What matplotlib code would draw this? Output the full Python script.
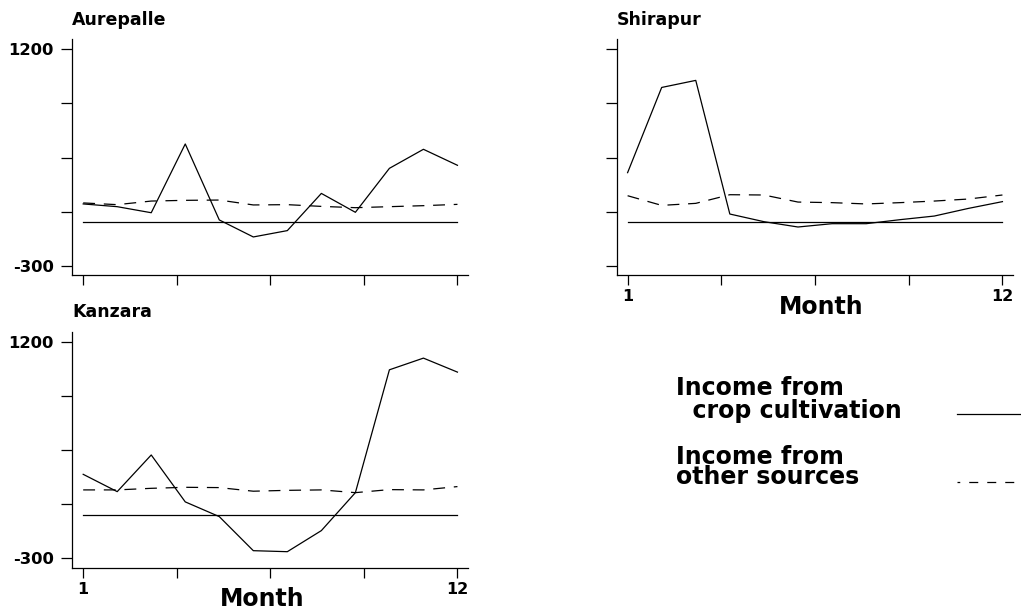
import matplotlib
matplotlib.use("Agg")
import matplotlib.pyplot as plt
from matplotlib.lines import Line2D

plt.rcParams['font.family'] = ['DejaVu Sans']
plt.rcParams['font.weight'] = 'bold'

#%% data (monthly income)

months = list(range(1, 13))

aurepalle_crop = [128, 109, 67, 544, 17, -101, -57, 201, 70, 375, 507, 396]
aurepalle_other = [135, 123, 148, 153, 155, 121, 123, 111, 102, 109, 116, 125]

shirapur_crop = [345, 936, 985, 58, 5, -32, -9, -9, 19, 44, 97, 144]
shirapur_other = [185, 118, 132, 192, 190, 141, 137, 128, 137, 148, 162, 190]

kanzara_crop = [282, 162, 416, 91, -11, -247, -254, -108, 155, 1006, 1087, 990]
kanzara_other = [174, 174, 185, 192, 190, 165, 171, 174, 155, 176, 174, 197]

yticks = [-300, 75, 450, 825, 1200]
xticks = [1, 3.75, 6.5, 9.25, 12]

legend_crop = 'Income from\n  crop cultivation'
legend_other = 'Income from\nother sources'

W, H = 1021, 611
DASH = (9.5, 7.0)

#%%

fig = plt.figure(figsize=(W / 100, H / 100), dpi=100)


def px_axes(x0, y0, x1, y1):
    """Axes from pixel box (top-left origin)."""
    return fig.add_axes([x0 / W, 1 - y1 / H, (x1 - x0) / W, (y1 - y0) / H])


def panel(ax, name, crop, other, ylabels, xlabels, month_pos=None):
    ax.plot([months[0], months[-1]], [0, 0], color='black', lw=0.9)
    ax.plot(months, crop, color='black', lw=0.9)
    ax.plot(months, other, color='black', lw=0.9, dashes=DASH)
    ax.set_xlim(0.68, 12.31)
    ax.set_ylim(-367, 1270)
    for s in ['top', 'right']:
        ax.spines[s].set_visible(False)
    for s in ['left', 'bottom']:
        ax.spines[s].set_linewidth(0.9)
    ax.set_yticks(yticks)
    ax.set_xticks(xticks)
    ax.set_yticklabels(['-300', '', '', '', '1200'] if ylabels else [''] * 5,
                       fontsize=11.8, fontweight='bold')
    ax.set_xticklabels(['1', '', '', '', '12'] if xlabels else [''] * 5,
                       fontsize=11.5, fontweight='bold')
    ax.tick_params(axis='y', length=8, width=0.9, pad=5.5)
    ax.tick_params(axis='x', length=7.5, width=0.9, pad=2.5)
    ax.text(0, 1 + 14.3 / 236, name, transform=ax.transAxes, ha='left',
            va='baseline', fontsize=12.5, fontweight='bold')
    if month_pos is not None:
        ax.text(month_pos[0], month_pos[1], 'Month', transform=ax.transAxes,
                ha='center', va='baseline', fontsize=17, fontweight='bold')


ax1 = px_axes(72.3, 39.3, 468, 275.3)
panel(ax1, 'Aurepalle', aurepalle_crop, aurepalle_other, True, False)

ax2 = px_axes(616.7, 39.3, 1013, 275.3)
panel(ax2, 'Shirapur', shirapur_crop, shirapur_other, False, True,
      month_pos=(0.517, -0.164))

ax3 = px_axes(72.3, 331.7, 468, 568)
panel(ax3, 'Kanzara', kanzara_crop, kanzara_other, True, True,
      month_pos=(0.479, -0.161))

# legend drawn by hand, text block top-left at the first line's cap top
fig.text(676 / W, 1 - 375.8 / H, legend_crop, ha='left', va='top',
         fontsize=17, fontweight='bold', linespacing=0.97)
fig.text(676 / W, 1 - 444.5 / H, legend_other, ha='left', va='top',
         fontsize=17, fontweight='bold', linespacing=0.80)

fig.add_artist(Line2D([957 / W, 1.01], [1 - 414.3 / H] * 2, color='black',
                      lw=0.9, transform=fig.transFigure))
fig.add_artist(Line2D([957 / W, 1.01], [1 - 481.7 / H] * 2, color='black',
                      lw=0.9, linestyle=(5.0, (7.2, 7.2)),
                      transform=fig.transFigure))

fig.savefig('out.png', dpi=100)
